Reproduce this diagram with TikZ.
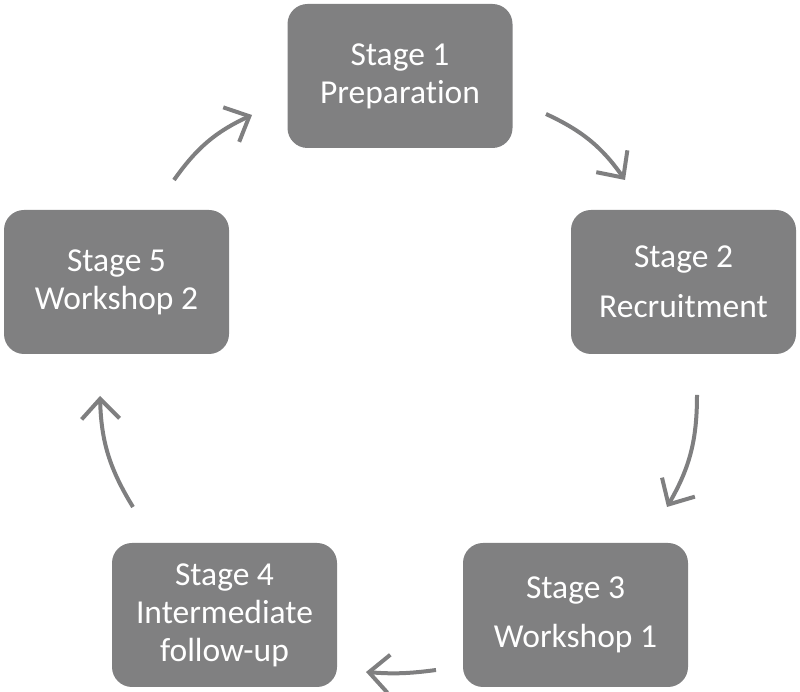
\documentclass[tikz,border=0pt]{standalone}
\usepackage{fontspec}
\setmainfont[Ligatures=NoCommon]{Carlito}
\usetikzlibrary{arrows.meta}
\definecolor{boxgray}{HTML}{808081}
\definecolor{arrowgray}{HTML}{7F7F80}
\begin{document}
\begin{tikzpicture}[x=1pt,y=1pt,
  stagebox/.style={draw=none, fill=boxgray, rounded corners=20pt,
    minimum width=225pt, minimum height=144pt, inner sep=0pt,
    text=white, align=center, font=\fontsize{33.5}{38}\selectfont},
  cyclearrow/.style={draw=arrowgray, line width=4pt,
    -{Straight Barb[length=20pt, width=38pt, line width=4pt]}}]
\useasboundingbox (0,0) rectangle (800,692);
\node[stagebox] (b1) at (400,616) {Stage 1\\Preparation};
\node[stagebox] (b2) at (683.5,410) {Stage 2\\[12pt]Recruitment};
\node[stagebox] (b3) at (575.5,77) {Stage 3\\[11pt]Workshop 1};
\node[stagebox] (b4) at (224.5,77) {Stage 4\\Intermediate\\follow-up};
\node[stagebox] (b5) at (116.5,410) {Stage 5\\Workshop 2};
\coordinate (a1s) at (174,512);
\coordinate (a1e) at (252,577);
\coordinate (a2s) at (546,578);
\coordinate (a2e) at (625,512);
\coordinate (a3s) at (697,297);
\coordinate (a3e) at (667,185);
\coordinate (a4s) at (436,22);
\coordinate (a4e) at (366,20);
\coordinate (a5s) at (133,185);
\coordinate (a5e) at (100,296);
\draw[cyclearrow] (a1s) to[bend left=15] (a1e);
\draw[cyclearrow] (a2s) to[bend left=15] (a2e);
\draw[cyclearrow] (a3s) to[bend left=15] (a3e);
\draw[cyclearrow] (a4s) to[bend left=6] (a4e);
\draw[cyclearrow] (a5s) to[bend left=15] (a5e);
\end{tikzpicture}
\end{document}
